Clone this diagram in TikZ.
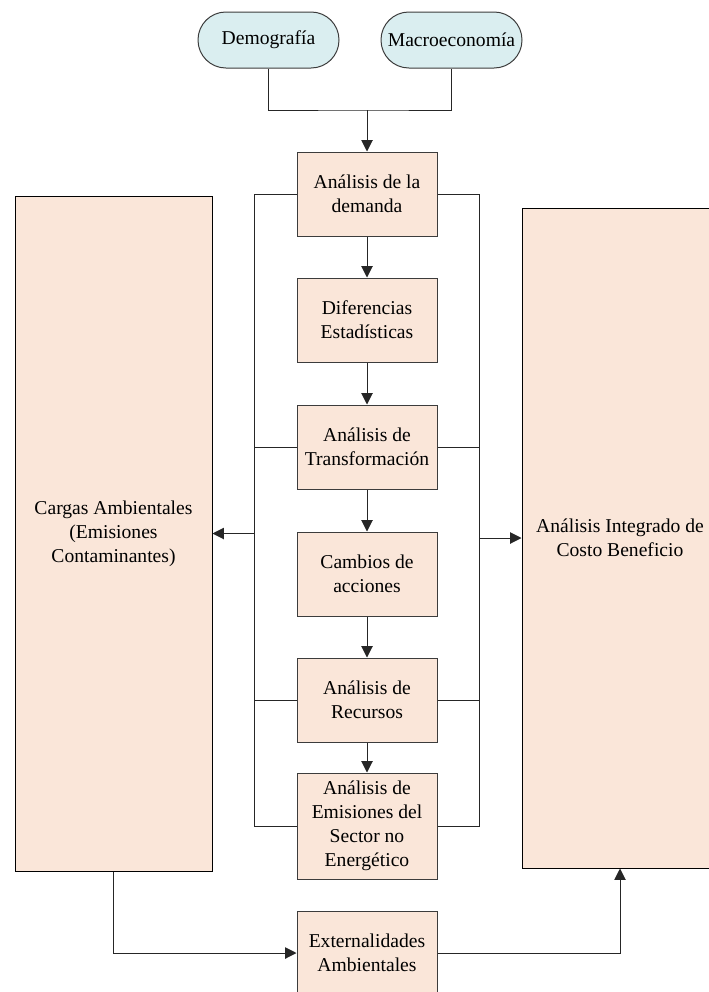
\documentclass[tikz,border=0pt]{standalone}
\usepackage{fontspec}
\setmainfont{Liberation Serif}
\usetikzlibrary{arrows.meta}
\definecolor{peach}{RGB}{250,230,217}
\definecolor{lcyan}{RGB}{218,238,240}
\definecolor{edge}{RGB}{60,60,60}
\begin{document}
\begin{tikzpicture}[x=0.75pt,y=-0.75pt,
  font=\fontsize{14.7}{18}\selectfont,
  line width=0.75pt,
  procbox/.style={draw=edge,fill=peach,align=center,inner sep=0pt,minimum width=105pt,minimum height=63pt},
  bigbox/.style={draw=black,fill=peach,align=center,inner sep=0pt},
  term/.style={draw=edge,fill=lcyan,rounded corners=20.9pt,align=center,inner sep=0pt,minimum width=105.75pt,minimum height=42pt},
  arr/.style={-{Triangle[length=8.5pt,width=8.5pt]}},
  wire/.style={draw=black!85}]
\useasboundingbox (0,0) rectangle (709,992);
\node[term] (demog) at (268.5,40) {Demografía};
\node[term] (macro) at (451.5,40) {Macroeconomía};
\node[procbox] (dem) at (367,194) {Análisis de la\\demanda};
\node[procbox] (dif) at (367,320) {Diferencias\\Estadísticas};
\node[procbox] (tra) at (367,447) {Análisis de\\Transformación};
\node[procbox] (cam) at (367,574) {Cambios de\\acciones};
\node[procbox] (rec) at (367,700) {Análisis de\\Recursos};
\node[procbox,minimum height=79.5pt] (emi) at (367,826) {Análisis de\\Emisiones del\\Sector no\\Energético};
\node[procbox] (ext) at (367,953) {Externalidades\\Ambientales};
\node[bigbox,minimum width=147.75pt,minimum height=506.25pt] (carg) at (113.5,533.5) {Cargas Ambientales\\(Emisiones\\Contaminantes)};
\node[bigbox,minimum width=147pt,minimum height=495pt] (int) at (620,538) {Análisis Integrado de\\Costo Beneficio};
% top junction
\coordinate (j) at (367,110);
\draw[wire] (demog.south) |- (j) -| (macro.south);
\draw[wire,arr] (j) -- (dem.north);
% chain
\draw[wire,arr] (dem.south) -- (dif.north);
\draw[wire,arr] (dif.south) -- (tra.north);
\draw[wire,arr] (tra.south) -- (cam.north);
\draw[wire,arr] (cam.south) -- (rec.north);
\draw[wire,arr] (rec.south) -- (emi.north);
% buses
\coordinate (lt) at (254,194);
\coordinate (lb) at (254,826);
\coordinate (rt) at (479,194);
\coordinate (rb) at (479,826);
\draw[wire] (dem.west) -- (lt) -- (lb) -- (emi.west);
\draw[wire] (dem.east) -- (rt) -- (rb) -- (emi.east);
\draw[wire] (tra.west) -- (tra.west -| lt);
\draw[wire] (rec.west) -- (rec.west -| lt);
\draw[wire] (tra.east) -- (tra.east -| rt);
\draw[wire] (rec.east) -- (rec.east -| rt);
\coordinate (la) at (lt |- carg.east);
\coordinate (ra) at (rt |- int.west);
\draw[wire,arr] (la) -- (carg.east);
\draw[wire,arr] (ra) -- (int.west);
% bottom
\draw[wire,arr] (carg.south) |- (ext.west);
\draw[wire,arr] (ext.east) -| (int.south);
\end{tikzpicture}
\end{document}
